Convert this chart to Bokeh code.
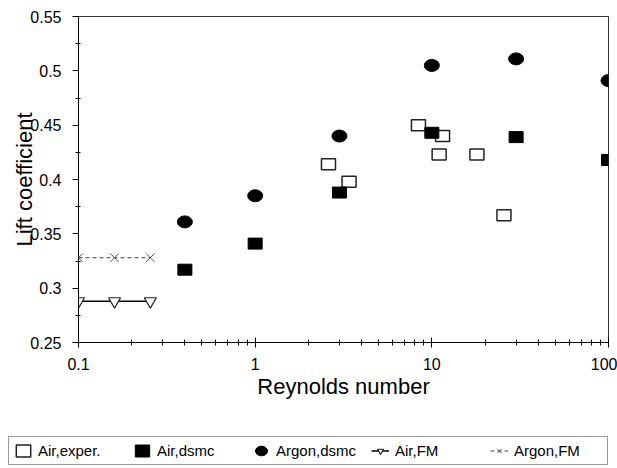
from bokeh.plotting import figure
from bokeh.models import (Range1d, FixedTicker, CustomJSTickFormatter, Legend, LegendItem)
from bokeh.embed import file_html
from bokeh.resources import INLINE

# ---- data ----
air_exp_re = [2.6, 3.4, 8.4, 11.5, 11.0, 18.0, 25.6]
air_exp_cl = [0.414, 0.398, 0.450, 0.440, 0.423, 0.423, 0.367]

air_dsmc_re = [0.4, 1.0, 3.0, 10.0, 30.0, 100.0]
air_dsmc_cl = [0.317, 0.341, 0.388, 0.443, 0.439, 0.418]

argon_dsmc_re = [0.4, 1.0, 3.0, 10.0, 30.0, 100.0]
argon_dsmc_cl = [0.361, 0.385, 0.440, 0.505, 0.511, 0.491]

air_fm_re = [0.1, 0.16, 0.255]
air_fm_cl = [0.288, 0.288, 0.288]

argon_fm_re = [0.1, 0.16, 0.255]
argon_fm_cl = [0.328, 0.328, 0.328]

x_ticks = [0.1, 1, 10, 100]
y_ticks = [0.25, 0.3, 0.35, 0.4, 0.45, 0.5, 0.55]
series_names = ["Air,exper.", "Air,dsmc", "Argon,dsmc", "Air,FM", "Argon,FM"]

FONT = "Liberation Sans"


def draw_series(fig):
    """Draw all five series on fig; return renderers per legend entry."""
    r_fm_air_line = fig.line(air_fm_re, air_fm_cl, line_color="black", line_width=1.5)
    r_fm_air_pts = fig.scatter(air_fm_re, air_fm_cl, marker="inverted_triangle", size=12,
                               fill_color="white", line_color="#222222", line_width=1.2)
    r_fm_ar_line = fig.line(argon_fm_re, argon_fm_cl, line_color="#444444", line_width=1,
                            line_dash="4 3")
    r_fm_ar_pts = fig.scatter(argon_fm_re, argon_fm_cl, marker="x", size=12,
                              line_color="#555555", line_width=1)
    r_exp = fig.rect(air_exp_re, air_exp_cl, width=14, height=11, width_units="screen",
                     height_units="screen", fill_color="white", fill_alpha=0,
                     line_color="#222222", line_width=1.5)
    r_dsmc = fig.rect(air_dsmc_re, air_dsmc_cl, width=14, height=11, width_units="screen",
                      height_units="screen", fill_color="black", line_color="black")
    r_ar = fig.ellipse(argon_dsmc_re, argon_dsmc_cl, width=15, height=12,
                       width_units="screen", height_units="screen",
                       fill_color="black", line_color="black")
    return [[r_exp], [r_dsmc], [r_ar], [r_fm_air_line, r_fm_air_pts],
            [r_fm_ar_line, r_fm_ar_pts]]


# ---- main plot ----
p = figure(width=617, height=433, x_axis_type="log",
           x_range=Range1d(0.1, 100), y_range=Range1d(0.25, 0.55),
           output_backend="svg", toolbar_location=None, title=None,
           min_border_left=78, min_border_right=9, min_border_top=16,
           min_border_bottom=91)

p.xgrid.visible = False
p.ygrid.visible = False
p.outline_line_color = "#333333"
p.outline_line_width = 1
p.background_fill_color = "white"
p.border_fill_color = "white"

x_minor = [m * d for d in (0.1, 1, 10) for m in range(2, 10)]
y_minor = [0.275, 0.325, 0.375, 0.425, 0.475, 0.525]
p.xaxis.ticker = FixedTicker(ticks=x_ticks, minor_ticks=x_minor)
p.yaxis.ticker = FixedTicker(ticks=y_ticks, minor_ticks=y_minor)
p.xaxis.formatter = CustomJSTickFormatter(code="return String(Math.round(tick*1000)/1000);")
p.yaxis.formatter = CustomJSTickFormatter(code="return String(Math.round(tick*1000)/1000);")

for ax in (p.xaxis[0], p.yaxis[0]):
    ax.axis_line_color = "black"
    ax.axis_line_width = 1
    ax.major_tick_line_color = "black"
    ax.minor_tick_line_color = "black"
    ax.major_label_text_font = FONT
    ax.major_label_text_font_size = "16px"
    ax.major_label_text_color = "black"
    ax.axis_label_text_font = FONT
    ax.axis_label_text_font_size = "22px"
    ax.axis_label_text_font_style = "normal"
    ax.axis_label_text_color = "black"

p.xaxis.axis_label = "Reynolds number"
p.yaxis.axis_label = "Lift coefficient"

p.xaxis.major_tick_in = 5
p.xaxis.major_tick_out = 5
p.xaxis.minor_tick_in = 3
p.xaxis.minor_tick_out = 3
p.xaxis.major_label_standoff = 10
p.xaxis.axis_label_standoff = 1

p.yaxis.major_tick_in = 0
p.yaxis.major_tick_out = 6
p.yaxis.minor_tick_in = 2
p.yaxis.minor_tick_out = 3
p.yaxis.major_label_standoff = 11
p.yaxis.axis_label_standoff = -10

draw_series(p)

# ---- legend strip (its glyphs sit outside its visible range; only the legend shows) ----
lg = figure(width=617, height=34, x_axis_type="log",
            x_range=Range1d(1e6, 1e7), y_range=Range1d(10, 11),
            x_axis_location=None, y_axis_location=None,
            output_backend="svg", toolbar_location=None, title=None,
            min_border_left=0, min_border_right=0, min_border_top=0,
            min_border_bottom=0)
lg.grid.visible = False
lg.outline_line_color = None
lg.background_fill_color = "white"
lg.border_fill_color = "white"

proxy = draw_series(lg)
items = [LegendItem(label=name, renderers=rs) for name, rs in zip(series_names, proxy)]
legend = Legend(items=items, orientation="horizontal", location=(8, 2),
                margin=0, padding=5, spacing=7, label_width=88, label_height=17,
                glyph_width=18, glyph_height=15, label_standoff=6,
                label_text_font=FONT, label_text_font_size="15px",
                label_text_color="black",
                border_line_color="#333333", border_line_width=1,
                background_fill_color="white", background_fill_alpha=1)
lg.add_layout(legend, "center")

open("out.html", "w").write(file_html([p, lg], INLINE))
